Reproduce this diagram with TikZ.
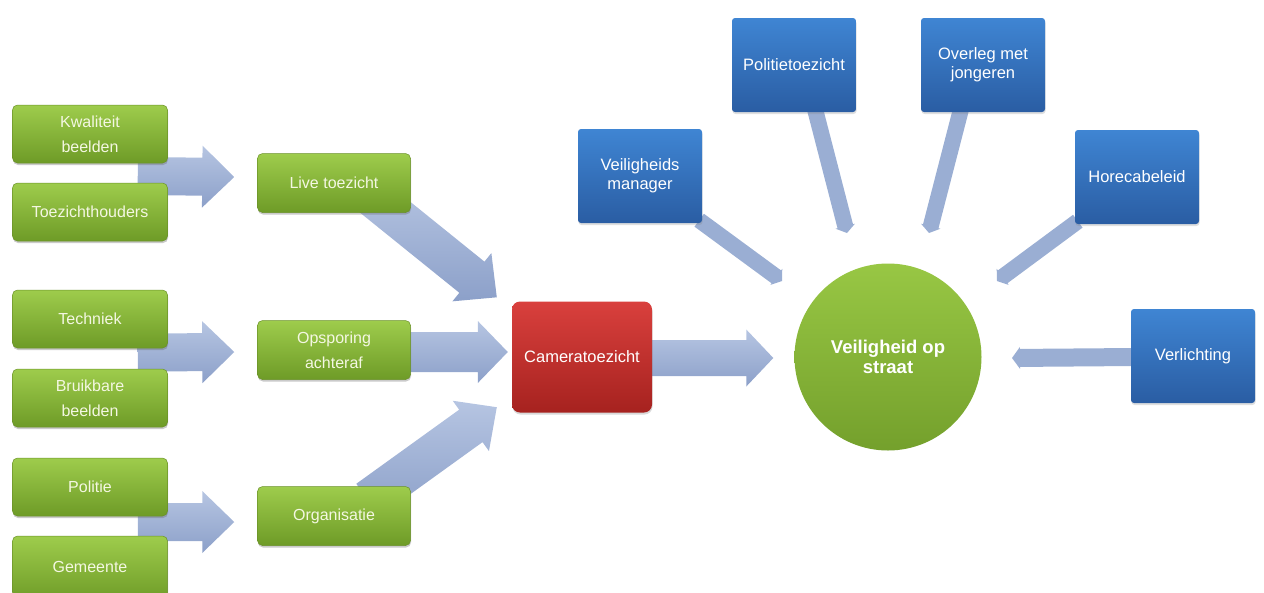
\documentclass[tikz,border=0pt]{standalone}
\usepackage{fontspec}
\setmainfont{Liberation Sans}
\usetikzlibrary{calc,shadows}
\definecolor{gtop}{HTML}{9ECC4C}
\definecolor{gbot}{HTML}{6E9B27}
\definecolor{gline}{HTML}{6A9128}
\definecolor{gtext}{HTML}{F4F7E2}
\definecolor{btop}{HTML}{3F85D3}
\definecolor{bbot}{HTML}{2A5DA3}
\definecolor{rtop}{HTML}{D9403D}
\definecolor{rbot}{HTML}{A6221F}
\definecolor{ctop}{HTML}{98C744}
\definecolor{cbot}{HTML}{74A02C}
\definecolor{atop}{HTML}{B6C5E2}
\definecolor{abot}{HTML}{8CA0C9}
\definecolor{thin}{HTML}{9AAED3}
\pgfdeclarelayer{bg}
\pgfsetlayers{bg,main}
\tikzset{
  gbox/.style={rectangle, rounded corners=5pt, minimum width=155pt, minimum height=58pt,
    top color=gtop, bottom color=gbot, draw=gline, line width=0.5pt, text=gtext,
    align=center, font=\fontsize{16}{25}\selectfont,
    drop shadow={shadow xshift=0.5pt, shadow yshift=-2pt, opacity=0.35, fill=black!60}},
  bbox/.style={rectangle, rounded corners=3pt, minimum width=124pt, minimum height=94pt,
    top color=btop, bottom color=bbot, text=white, align=center,
    font=\fontsize{16.5}{19}\selectfont,
    drop shadow={shadow xshift=0.5pt, shadow yshift=-2pt, opacity=0.25, fill=black!50}},
  rbox/.style={rectangle, rounded corners=8pt, minimum width=140pt, minimum height=111pt,
    top color=rtop, bottom color=rbot, text=white, align=center,
    font=\fontsize{16.5}{20}\selectfont,
    drop shadow={shadow xshift=0.5pt, shadow yshift=-2pt, opacity=0.3, fill=black!50}},
  cnode/.style={circle, minimum size=187pt, inner sep=0pt, top color=ctop, bottom color=cbot,
    text=white, align=center, font=\fontsize{18.5}{20}\selectfont\bfseries},
  arrowfill/.style={top color=atop, bottom color=abot},
  thinfill/.style={fill=thin},
}
% block arrow: #1 fill style, #2 start, #3 tip, #4 shaft half width, #5 head half width, #6 head length
\newcommand{\barrow}[6]{%
  \coordinate (bh) at ($(#3)!#6!(#2)$);
  \path[#1] ($(#2)!#4!90:(#3)$) -- ($(bh)!#4!-90:(#2)$) -- ($(bh)!#5!-90:(#2)$) -- (#3)
    -- ($(bh)!#5!90:(#2)$) -- ($(bh)!#4!90:(#2)$) -- ($(#2)!#4!-90:(#3)$) -- cycle;}
\begin{document}
\begin{tikzpicture}[x=1pt,y=-1pt]
\useasboundingbox (0,0) rectangle (1264,592);
% left column
\node[gbox] (kb) at (90,134) {Kwaliteit\\beelden};
\node[gbox] (th) at (90,212) {Toezichthouders};
\node[gbox] (te) at (90,319) {Techniek};
\node[gbox] (bb) at (90,398) {Bruikbare\\beelden};
\node[gbox] (po) at (90,487) {Politie};
\node[gbox, minimum height=66pt] (ge) at (90,569) {\raisebox{5pt}{Gemeente}};
% middle column
\node[gbox, minimum width=153pt, minimum height=59pt] (lt) at (334,183) {Live toezicht};
\node[gbox, minimum width=153pt, minimum height=59pt] (oa) at (334,350) {Opsporing\\achteraf};
\node[gbox, minimum width=153pt, minimum height=59pt] (or) at (334,516) {Organisatie};
% center
\node[rbox] (cam) at (582,357) {Cameratoezicht};
\node[cnode] (vos) at (888,357) {Veiligheid op\\straat};
% blue boxes
\node[bbox] (vm) at (640,176) {Veiligheids\\manager};
\node[bbox] (pt) at (794,65) {Politietoezicht};
\node[bbox] (ov) at (983,65) {Overleg met\\jongeren};
\node[bbox] (hb) at (1137,177) {Horecabeleid};
\node[bbox] (vl) at (1193,356) {Verlichting};
% connectors
\begin{pgfonlayer}{bg}
  \coordinate (a1s) at ($(kb.south east)!0.5!(th.north east)+(-30,3)$);
  \coordinate (a1e) at ($(lt.west)+(-23,-6)$);
  \barrow{arrowfill}{a1s}{a1e}{19pt}{31pt}{32pt}
  \coordinate (a2s) at ($(te.south east)!0.5!(bb.north east)+(-30,-6)$);
  \coordinate (a2e) at ($(oa.west)+(-23,2)$);
  \barrow{arrowfill}{a2s}{a2e}{19pt}{31pt}{32pt}
  \coordinate (a3s) at ($(po.south east)!0.5!(ge.north east)+(-30,-4)$);
  \coordinate (a3e) at ($(or.west)+(-23,6)$);
  \barrow{arrowfill}{a3s}{a3e}{19pt}{31pt}{32pt}
  \coordinate (b1s) at ($(lt.center)+(36,12)$);
  \coordinate (b1e) at ($(cam.north west)+(-15,-4)$);
  \barrow{arrowfill}{b1s}{b1e}{20pt}{31pt}{32pt}
  \coordinate (b2s) at ($(oa.center)+(66,2)$);
  \coordinate (b2e) at ($(cam.west)+(-4,-5)$);
  \barrow{arrowfill}{b2s}{b2e}{20pt}{31pt}{30pt}
  \coordinate (b3s) at ($(or.center)+(34,-16)$);
  \coordinate (b3e) at ($(cam.south west)+(-15,-5.5)$);
  \barrow{arrowfill}{b3s}{b3e}{20pt}{31pt}{32pt}
  \coordinate (c1s) at ($(cam.center)+(58,1)$);
  \coordinate (c1e) at ($(vos.west)+(-21,1)$);
  \barrow{arrowfill}{c1s}{c1e}{18pt}{28.5pt}{27pt}
  % thin arrows to the circle
  \coordinate (t1s) at ($(vm.south east)+(-3,-3)$);
  \coordinate (t1e) at ($(vos.center)+(-106,-76)$);
  \barrow{thinfill}{t1s}{t1e}{8pt}{10pt}{7pt}
  \coordinate (t2s) at ($(pt.south)+(21,-3)$);
  \coordinate (t2e) at ($(vos.center)+(-41,-124)$);
  \barrow{thinfill}{t2s}{t2e}{8pt}{10pt}{7pt}
  \coordinate (t3s) at ($(ov.south)+(-22,-3)$);
  \coordinate (t3e) at ($(vos.center)+(41,-124)$);
  \barrow{thinfill}{t3s}{t3e}{8pt}{10pt}{7pt}
  \coordinate (t4s) at ($(hb.south west)+(3,-3)$);
  \coordinate (t4e) at ($(vos.center)+(109,-76)$);
  \barrow{thinfill}{t4s}{t4e}{8pt}{10pt}{7pt}
  \coordinate (t5s) at ($(vl.west)+(3,1)$);
  \coordinate (t5e) at ($(vos.center)+(124,1)$);
  \barrow{thinfill}{t5s}{t5e}{9pt}{11pt}{8pt}
\end{pgfonlayer}
\end{tikzpicture}
\end{document}
